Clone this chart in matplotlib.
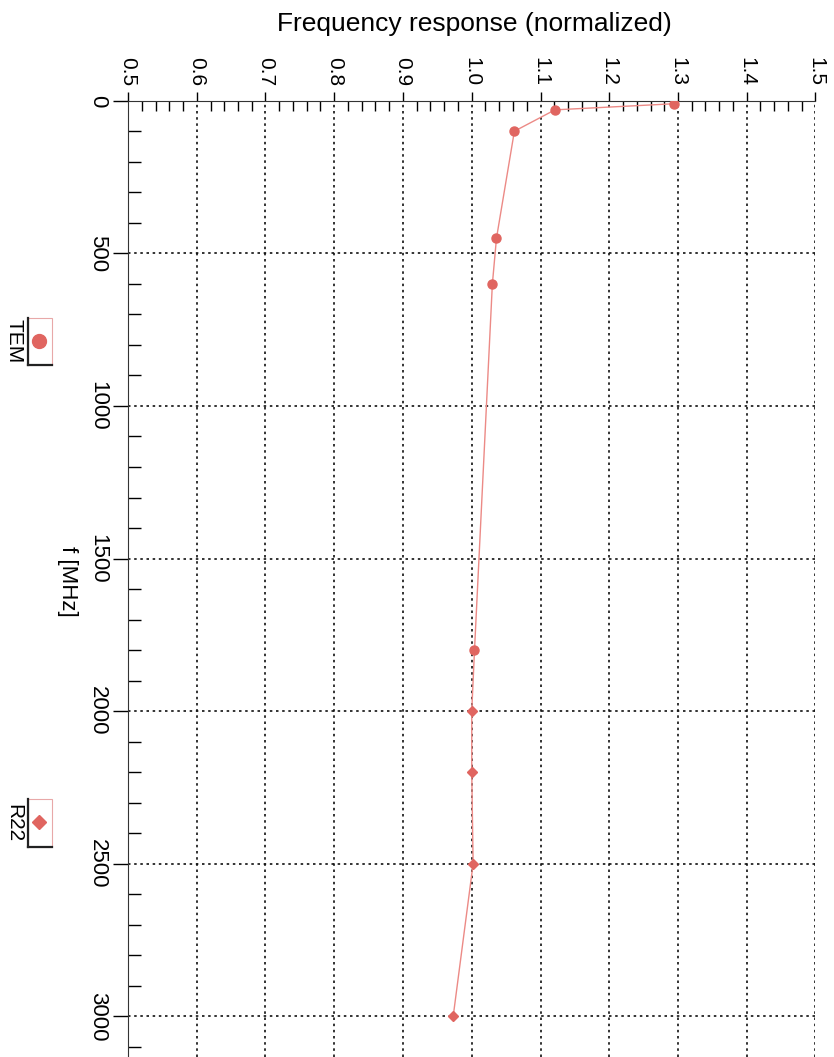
import matplotlib
matplotlib.use('Agg')
import matplotlib.pyplot as plt
from matplotlib.patches import Rectangle
from matplotlib.lines import Line2D
from matplotlib.ticker import MultipleLocator, FormatStrFormatter

plt.rcParams['font.family'] = ['Liberation Sans', 'DejaVu Sans']

# Dữ liệu (f tính bằng MHz)
tem_f = [10, 30, 100, 450, 600, 1800]
tem_v = [1.294, 1.121, 1.062, 1.036, 1.030, 1.004]
r22_f = [2000, 2200, 2500, 3000]
r22_v = [1.000, 1.000, 1.002, 0.973]

x_ticks = [0.5, 0.6, 0.7, 0.8, 0.9, 1.0, 1.1, 1.2, 1.3, 1.4, 1.5]
f_ticks = [0, 500, 1000, 1500, 2000, 2500, 3000]

W, H = 834, 1057
red = '#e06560'
line_red = '#ec8a86'

fig = plt.figure(figsize=(W / 100, H / 100), dpi=100)

def fx(px):
    return px / W

def fy(py):
    return 1 - py / H

ax = fig.add_axes([fx(128), 0, fx(815.5) - fx(128), fy(100.7)])

# Đường nối tất cả các điểm
ax.plot(tem_v + r22_v, tem_f + r22_f, color=line_red, lw=1.0, zorder=3)
ax.plot(tem_v, tem_f, 'o', color=red, ms=6.5, mec=red, zorder=4)
ax.plot(r22_v, r22_f, 'D', color=red, ms=5.5, mec=red, zorder=4)

ax.set_xlim(0.5, 1.5)
ax.set_ylim(3133, 0)

ax.xaxis.tick_top()
ax.set_xticks(x_ticks)
ax.set_yticks(f_ticks)
ax.xaxis.set_major_formatter(FormatStrFormatter('%.1f'))
ax.xaxis.set_minor_locator(MultipleLocator(0.02))
ax.yaxis.set_minor_locator(MultipleLocator(100))

ax.tick_params(axis='x', which='major', direction='out', length=6.5, width=1,
               pad=4, labelsize=15, labelrotation=-90, top=True, bottom=False)
ax.tick_params(axis='x', which='minor', direction='in', length=7, width=1,
               top=True, bottom=False)
ax.tick_params(axis='y', which='major', direction='out', length=11, width=1,
               pad=3.5, labelsize=16, labelrotation=-90, left=True, right=False)
ax.tick_params(axis='y', which='minor', direction='in', length=9.5, width=1,
               left=True, right=False)
for lab in ax.get_yticklabels():
    lab.set_verticalalignment('center')

ax.spines['right'].set_visible(False)
ax.spines['bottom'].set_visible(False)
ax.spines['left'].set_color('#333333')
ax.spines['top'].set_color('#333333')

ax.grid(True, which='major', color='#111111', lw=1.2, linestyle=(0, (1.5, 2.2)))

# Tiêu đề và nhãn trục
fig.text(fx(474), fy(24), 'Frequency response (normalized)', ha='center', va='center',
         fontsize=19)
fig.text(fx(67), fy(581), 'f [MHz]', ha='center', va='center', rotation=-90, fontsize=16)

# Chú thích (xoay)
def legend_entry(y0, y1, marker, ms, label):
    x0, x1 = 28, 52
    fig.add_artist(Rectangle((fx(x0), fy(y1)), fx(x1 - x0), fy(y0) - fy(y1),
                             transform=fig.transFigure, facecolor='white',
                             edgecolor='#e8a8a8', lw=0.8))
    fig.add_artist(Line2D([fx(x0), fx(x0)], [fy(y0), fy(y1)], transform=fig.transFigure,
                          color='#222222', lw=1.6))
    fig.add_artist(Line2D([fx(x0), fx(x1)], [fy(y1), fy(y1)], transform=fig.transFigure,
                          color='#222222', lw=1.6))
    fig.add_artist(Line2D([fx((x0 + x1) / 2 - 1)], [fy((y0 + y1) / 2 - 1)],
                          transform=fig.transFigure, marker=marker, ms=ms,
                          color=red, mec=red, ls='none'))
    fig.text(fx(14), fy((y0 + y1) / 2), label, ha='center', va='center',
             rotation=-90, fontsize=15)

legend_entry(318, 365, 'o', 10, 'TEM')
legend_entry(799, 847, 'D', 7, 'R22')

fig.savefig('out.png', dpi=100)
